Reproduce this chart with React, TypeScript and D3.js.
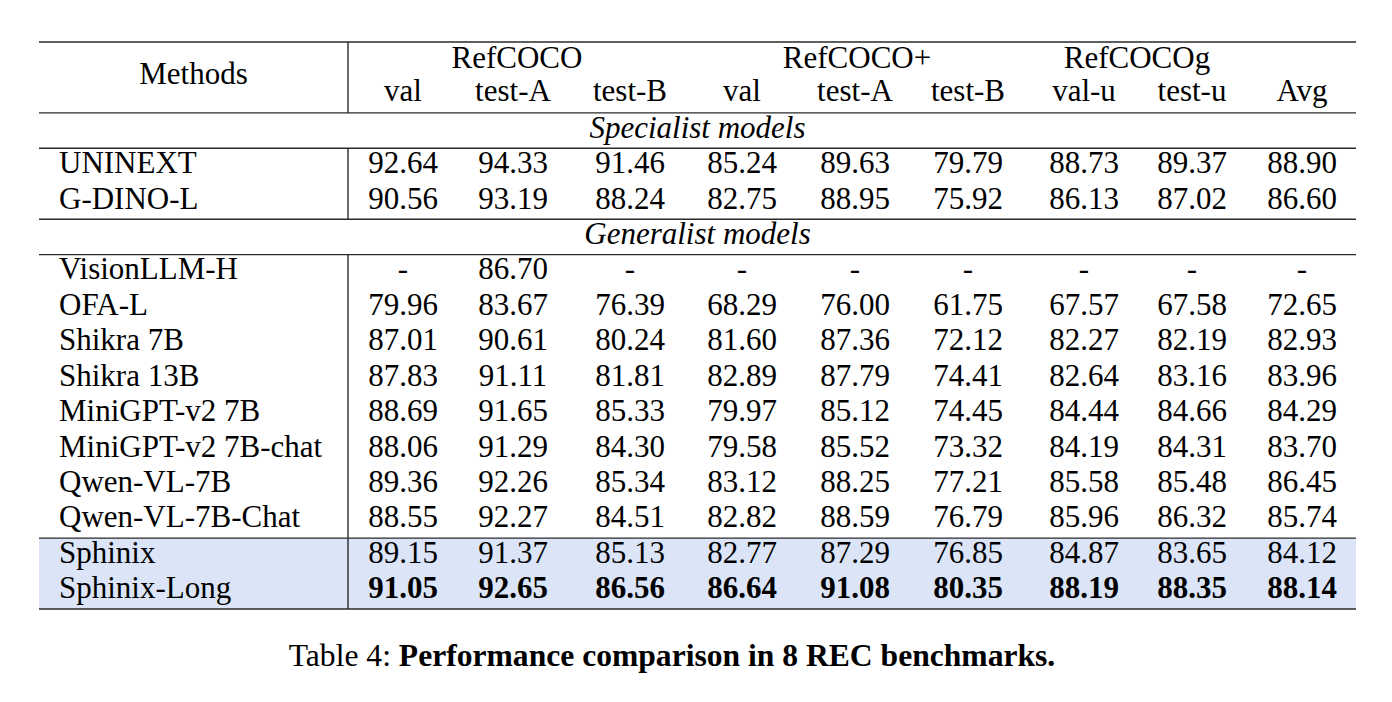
import React from "react";
import * as d3 from "d3";

const groups = ["RefCOCO", "RefCOCO+", "RefCOCOg"];
const columns = ["val", "test-A", "test-B", "val", "test-A", "test-B", "val-u", "test-u", "Avg"];
const sections = ["Specialist models", "Generalist models"];

const specialistMethods = ["UNINEXT", "G-DINO-L"];
const specialistValues = [
  ["92.64", "94.33", "91.46", "85.24", "89.63", "79.79", "88.73", "89.37", "88.90"],
  ["90.56", "93.19", "88.24", "82.75", "88.95", "75.92", "86.13", "87.02", "86.60"],
];

const generalistMethods = [
  "VisionLLM-H",
  "OFA-L",
  "Shikra 7B",
  "Shikra 13B",
  "MiniGPT-v2 7B",
  "MiniGPT-v2 7B-chat",
  "Qwen-VL-7B",
  "Qwen-VL-7B-Chat",
];
const generalistValues = [
  ["-", "86.70", "-", "-", "-", "-", "-", "-", "-"],
  ["79.96", "83.67", "76.39", "68.29", "76.00", "61.75", "67.57", "67.58", "72.65"],
  ["87.01", "90.61", "80.24", "81.60", "87.36", "72.12", "82.27", "82.19", "82.93"],
  ["87.83", "91.11", "81.81", "82.89", "87.79", "74.41", "82.64", "83.16", "83.96"],
  ["88.69", "91.65", "85.33", "79.97", "85.12", "74.45", "84.44", "84.66", "84.29"],
  ["88.06", "91.29", "84.30", "79.58", "85.52", "73.32", "84.19", "84.31", "83.70"],
  ["89.36", "92.26", "85.34", "83.12", "88.25", "77.21", "85.58", "85.48", "86.45"],
  ["88.55", "92.27", "84.51", "82.82", "88.59", "76.79", "85.96", "86.32", "85.74"],
];

const oursMethods = ["Sphinix", "Sphinix-Long"];
const oursValues = [
  ["89.15", "91.37", "85.13", "82.77", "87.29", "76.85", "84.87", "83.65", "84.12"],
  ["91.05", "92.65", "86.56", "86.64", "91.08", "80.35", "88.19", "88.35", "88.14"],
];
const oursBold = [false, true];

const captionLabel = "Table 4: ";
const captionText = "Performance comparison in 8 REC benchmarks.";

// Layout
const W = 1392;
const H = 702;
const FONT = "'Liberation Serif', 'Times New Roman', serif";
const FS = 31;
const tableLeft = 39;
const tableRight = 1356;
const sepX = 348;
const nameX = 59;
const colCenters = [403, 513, 630, 742, 855, 968, 1084, 1192, 1302];
const groupCenters = [517, 857, 1137];
const nRows = 16;

export default function App() {
  const y = d3
    .scaleBand<number>()
    .domain(d3.range(nRows))
    .range([42, 609])
    .paddingInner(0)
    .paddingOuter(0);
  const x = d3.scaleOrdinal<number, number>().domain(d3.range(columns.length)).range(colCenters);
  const gx = d3.scaleOrdinal<number, number>().domain(d3.range(groups.length)).range(groupCenters);
  const base = (i: number) => (y(i) as number) + 24.8;

  const specStart = 3;
  const genLabelRow = specStart + specialistMethods.length;
  const genStart = genLabelRow + 1;
  const oursStart = genStart + generalistMethods.length;

  const rules = [y(0) as number, y(2) as number, y(3) as number, y(genLabelRow) as number, y(genStart) as number, y(oursStart) as number, 609];
  const vSegs: [number, number][] = [
    [y(0) as number, y(2) as number],
    [y(specStart) as number, y(genLabelRow) as number],
    [y(genStart) as number, 609],
  ];

  const dataRows: { name: string; vals: string[]; row: number; bold: boolean }[] = [];
  specialistMethods.forEach((m, i) => dataRows.push({ name: m, vals: specialistValues[i], row: specStart + i, bold: false }));
  generalistMethods.forEach((m, i) => dataRows.push({ name: m, vals: generalistValues[i], row: genStart + i, bold: false }));
  oursMethods.forEach((m, i) => dataRows.push({ name: m, vals: oursValues[i], row: oursStart + i, bold: oursBold[i] }));

  return (
    <div style={{ position: "absolute", left: 0, top: 0 }}>
      <svg width={W} height={H} style={{ display: "block", background: "#fff" }} fontFamily={FONT} fontSize={FS}>
        <rect
          x={tableLeft}
          y={y(oursStart) as number}
          width={tableRight - tableLeft}
          height={609 - (y(oursStart) as number)}
          fill="#dbe5f7"
        />
        {rules.map((ry, i) => (
          <line key={"r" + i} x1={tableLeft} x2={tableRight} y1={ry} y2={ry} stroke="#2a2a2a" strokeWidth={1.4} />
        ))}
        {vSegs.map(([a, b], i) => (
          <line key={"v" + i} x1={sepX} x2={sepX} y1={a} y2={b} stroke="#2a2a2a" strokeWidth={1.4} />
        ))}
        <text x={(tableLeft + sepX) / 2} y={84} textAnchor="middle" fill="#000">
          Methods
        </text>
        {groups.map((g, i) => (
          <text key={"g" + i} x={gx(i)} y={base(0) + 1} textAnchor="middle" fill="#000">
            {g}
          </text>
        ))}
        {columns.map((c, i) => (
          <text key={"c" + i} x={x(i)} y={base(1) - 1} textAnchor="middle" fill="#000">
            {c}
          </text>
        ))}
        {[2, genLabelRow].map((r, i) => (
          <text key={"s" + i} x={(tableLeft + tableRight) / 2} y={base(r)} textAnchor="middle" fontStyle="italic" fill="#000">
            {sections[i]}
          </text>
        ))}
        {dataRows.map((d) => (
          <g key={d.name}>
            <text x={nameX} y={base(d.row)} fill="#000">
              {d.name}
            </text>
            {d.vals.map((v, j) => (
              <text key={j} x={x(j)} y={base(d.row)} textAnchor="middle" fontWeight={d.bold ? "bold" : "normal"} fill="#000">
                {v}
              </text>
            ))}
          </g>
        ))}
        <text x={672} y={666} textAnchor="middle" fontSize={31.6} fill="#000">
          <tspan>{captionLabel}</tspan>
          <tspan fontWeight="bold">{captionText}</tspan>
        </text>
      </svg>
    </div>
  );
}
